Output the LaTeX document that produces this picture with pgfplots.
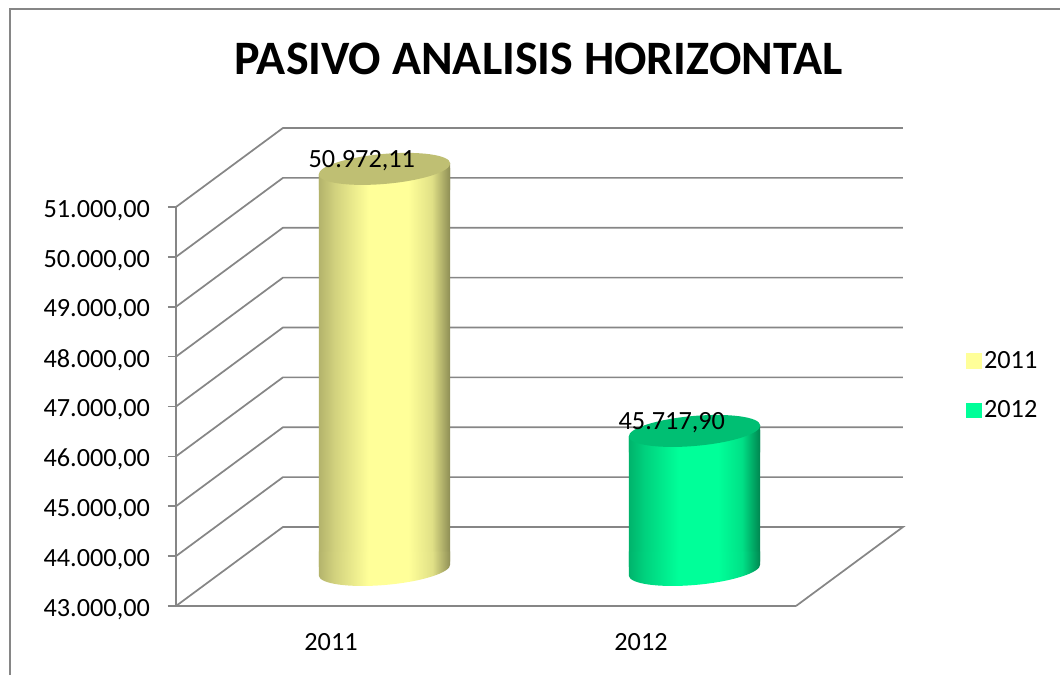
\documentclass[border=0pt]{standalone}
\usepackage{fontspec}
\setmainfont{Carlito}
\usepackage{pgfplots}
\pgfplotsset{compat=1.18}

\definecolor{gridgray}{HTML}{868686}
\definecolor{swY}{HTML}{FFFF99}
\definecolor{swG}{HTML}{00FF99}
\definecolor{topY}{HTML}{BFBF73}
\definecolor{topG}{HTML}{00BF73}

% cylinder side shadings (a path's box maps to the middle 25bp..75bp)
\pgfdeclarehorizontalshading{cylY}{100bp}{
  color(0bp)=(swY!70!black); color(25bp)=(swY!70!black); color(31bp)=(swY!82!black); color(44bp)=(swY);
  color(59bp)=(swY); color(68bp)=(swY!88!black); color(75bp)=(swY!55!black); color(100bp)=(swY!55!black)}
\pgfdeclarehorizontalshading{cylG}{100bp}{
  color(0bp)=(swG!70!black); color(25bp)=(swG!70!black); color(31bp)=(swG!82!black); color(44bp)=(swG);
  color(59bp)=(swG); color(68bp)=(swG!88!black); color(75bp)=(swG!52!black); color(100bp)=(swG!52!black)}

% slanted end caps, 1px = 0.75pt
\def\capellipse{\pgfpathellipse{\pgfpointorigin}{\pgfpoint{49.3pt}{4.3pt}}{\pgfpoint{-1pt}{11.2pt}}}
\def\capbody#1{%
  \pgfpathmoveto{\pgfpoint{-49.3pt}{-4.3pt}}%
  \pgfpathlineto{\pgfpoint{49.3pt}{4.3pt}}%
  \pgfpathlineto{\pgfpoint{49.3pt}{#1}}%
  \pgfpathlineto{\pgfpoint{-49.3pt}{#1}}%
  \pgfpathclose}
% white wedges hide the square bar corners outside the caps
\def\basewedge{%
  \pgfsetfillcolor{white}%
  \pgfpathmoveto{\pgfpoint{50pt}{4pt}}\pgfpathlineto{\pgfpoint{50pt}{-1.2pt}}\pgfpathlineto{\pgfpoint{43pt}{-1.2pt}}\pgfpathclose
  \pgfusepath{fill}}
\def\topwedge{%
  \pgfsetfillcolor{white}%
  \pgfpathmoveto{\pgfpoint{-50pt}{-4.3pt}}\pgfpathlineto{\pgfpoint{-50pt}{1.2pt}}\pgfpathlineto{\pgfpoint{-42pt}{1.2pt}}\pgfpathclose
  \pgfusepath{fill}}
\pgfdeclareplotmark{baseY}{\basewedge\pgftransformyshift{-2.6pt}\capellipse\capbody{14pt}\pgfshadepath{cylY}{0}\pgfusepath{discard}}
\pgfdeclareplotmark{baseG}{\basewedge\pgftransformyshift{-2.6pt}\capellipse\capbody{14pt}\pgfshadepath{cylG}{0}\pgfusepath{discard}}
\pgfdeclareplotmark{topY}{\topwedge
  \capbody{-16pt}\pgfshadepath{cylY}{0}\pgfusepath{discard}%
  \capellipse\pgfsetfillcolor{topY}\pgfusepath{fill}}
\pgfdeclareplotmark{topG}{\topwedge
  \capbody{-16pt}\pgfshadepath{cylG}{0}\pgfusepath{discard}%
  \capellipse\pgfsetfillcolor{topG}\pgfusepath{fill}}

\begin{document}
\begin{tikzpicture}
\useasboundingbox (0,0) rectangle (795pt,506.25pt);
\draw[gridgray, line width=0.9pt] (7.5pt,0) -- (7.5pt,499.5pt) -- (795pt,499.5pt);
\begin{axis}[
    at={(132pt,51.75pt)}, anchor=south west,
    scale only axis,
    width=465pt, height=299.25pt,
    xmin=0, xmax=2,
    ymin=43000, ymax=51000,
    clip=false,
    axis lines*=left,
    axis line style={-, gridgray, line width=1.3pt},
    tick style={gridgray, line width=1.3pt},
    tick align=outside,
    major tick length=6pt,
    minor tick length=6.5pt,
    xtick={0.5,1.5},
    xticklabels={2011,2012},
    x tick style={draw=none},
    minor xtick={0,1,2},
    xticklabel style={font=\fontsize{19.7}{20}\selectfont, yshift=-11pt},
    ytick={43000,44000,...,51000},
    scaled y ticks=false,
    yticklabel style={
        font=\fontsize{19.7}{20}\selectfont, xshift=-10pt, yshift=-2.5pt,
        /pgf/number format/.cd, fixed, fixed zerofill, precision=2,
        1000 sep={.}, dec sep={,}, assume math mode=true},
    title={PASIVO ANALISIS HORIZONTAL},
    title style={font=\fontsize{36}{38}\selectfont\bfseries,
        at={(0.5847,1.35)}, anchor=center},
    legend style={at={(1.334,0.553)}, anchor=center, draw=none, fill=none,
        font=\fontsize{19.7}{20}\selectfont, row sep=19pt},
    legend cell align=left,
]
% floor and back wall
\addplot[forget plot, gridgray, line width=1.3pt, unbounded coords=jump] coordinates {
    (0,43000) (0.345,44584) (2.345,44584) (2,43000) (nan,nan)
    (0,44000) (0.345,45584) (2.345,45584) (nan,nan)
    (0,45000) (0.345,46584) (2.345,46584) (nan,nan)
    (0,46000) (0.345,47584) (2.345,47584) (nan,nan)
    (0,47000) (0.345,48584) (2.345,48584) (nan,nan)
    (0,48000) (0.345,49584) (2.345,49584) (nan,nan)
    (0,49000) (0.345,50584) (2.345,50584) (nan,nan)
    (0,50000) (0.345,51584) (2.345,51584) (nan,nan)
    (0,51000) (0.345,52584) (2.345,52584)
};
% cylinders sit mid-depth: shifted by half the wall offset
\addplot[forget plot, ybar, bar width=98.6pt, bar shift=0pt, draw=none, shading=cylY, xshift=40.125pt, yshift=29.625pt] coordinates {(0.5,50972.11)};
\addplot[forget plot, ybar, bar width=98.6pt, bar shift=0pt, draw=none, shading=cylG, xshift=40.125pt, yshift=29.625pt] coordinates {(1.5,45717.90)};
\begin{scope}[xshift=40.125pt, yshift=29.625pt]
\addplot[forget plot, only marks, mark=baseY] coordinates {(0.5,43000)};
\addplot[forget plot, only marks, mark=topY,
    nodes near coords={50.972,11},
    every node near coord/.append style={font=\fontsize{19.7}{20}\selectfont, anchor=center, xshift=-17pt, yshift=6.5pt}]
    coordinates {(0.5,50972.11)};
\addplot[forget plot, only marks, mark=baseG] coordinates {(1.5,43000)};
\addplot[forget plot, only marks, mark=topG,
    nodes near coords={45.717,90},
    every node near coord/.append style={font=\fontsize{19.7}{20}\selectfont, anchor=center, xshift=-17pt, yshift=6.5pt}]
    coordinates {(1.5,45717.90)};
\end{scope}
\addlegendimage{legend image code/.code={\fill[swY] (0pt,-5.5pt) rectangle (11pt,5.5pt);}}
\addlegendentry{2011}
\addlegendimage{legend image code/.code={\fill[swG] (0pt,-5.5pt) rectangle (11pt,5.5pt);}}
\addlegendentry{2012}
\end{axis}
\end{tikzpicture}
\end{document}
